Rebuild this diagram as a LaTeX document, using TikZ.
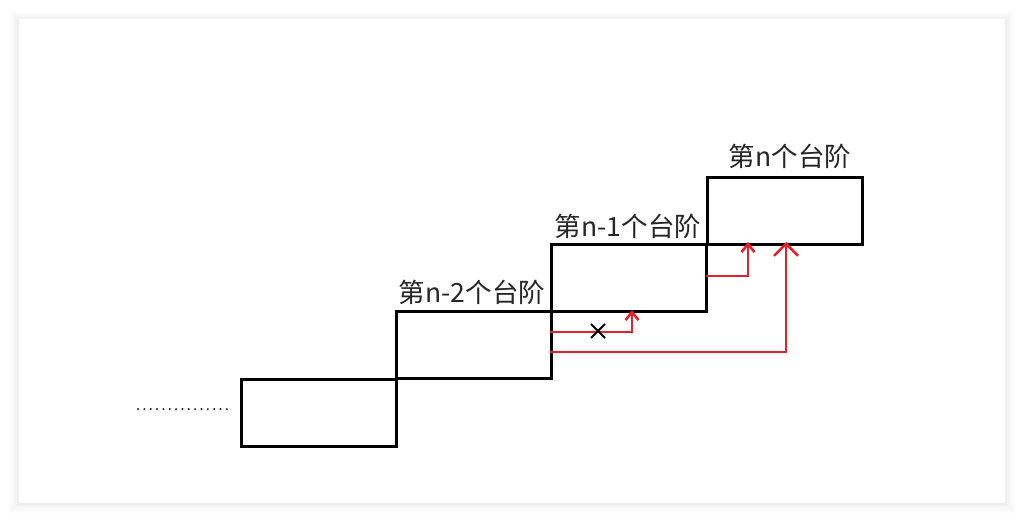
\documentclass[tikz,border=0pt]{standalone}
\usepackage{fontspec}
\setmainfont{Noto Sans CJK SC}
\usetikzlibrary{arrows.meta,calc}
\begin{document}
\begin{tikzpicture}[x=1pt,y=-1pt,
  stepbox/.style={draw=black,line width=2.8pt,minimum width=155pt,minimum height=67pt,anchor=north west,inner sep=0pt},
  lbl/.style={font=\fontsize{26.5}{30}\selectfont,text=black!85,inner sep=0pt},
  redline/.style={draw={rgb,255:red,232;green,30;blue,40},line width=2.8pt},
  smallhead/.style={-{Straight Barb[length=8pt,width=13pt,line width=2.6pt]}},
  bighead/.style={-{Straight Barb[length=12pt,width=24pt,line width=2.6pt]}}]
\useasboundingbox (0,0) rectangle (1024,522);
% card with soft shadow
\foreach \i/\o in {10/0.008,8/0.01,6/0.012,4/0.015,2/0.018}{
  \fill[black,opacity=\o] (19-\i,19-\i+2) rectangle (1005+\i,503+\i);
}
\fill[white] (19,19) rectangle (1005,503);
% steps
\node[stepbox] (b1) at (240,378) {};
\node[stepbox] (b2) at (395,310) {};
\node[stepbox] (b3) at (550,243) {};
\node[stepbox] (b4) at (706,176) {};
% labels
\node[lbl] (l2) at (472,292) {第n-2个台阶};
\node[lbl] (l3) at (628,226) {第n-1个台阶};
\node[lbl] (l4) at (790,156) {第n个台阶};
% dots
\coordinate (d1) at (138,409);
\coordinate (d2) at (227,409);
\draw[line width=2.2pt,line cap=round,dash pattern=on 0pt off 6.35pt,black!90] (d1) -- (d2);
% red arrows
\coordinate (s1) at (550,332);
\coordinate (t1) at (632,310);
\draw[redline,smallhead] (s1) -| (t1);
\coordinate (s2) at (706,276);
\coordinate (t2) at (748,242);
\draw[redline,smallhead] (s2) -| (t2);
\coordinate (s3) at (550,352);
\coordinate (t3) at (786,242);
\draw[redline,bighead] (s3) -| (t3);
% cross
\coordinate (x) at (598,331);
\draw[black,line width=2pt] ($(x)+(-7,-7)$) -- ($(x)+(7,7)$) ($(x)+(7,-7)$) -- ($(x)+(-7,7)$);
\end{tikzpicture}
\end{document}
